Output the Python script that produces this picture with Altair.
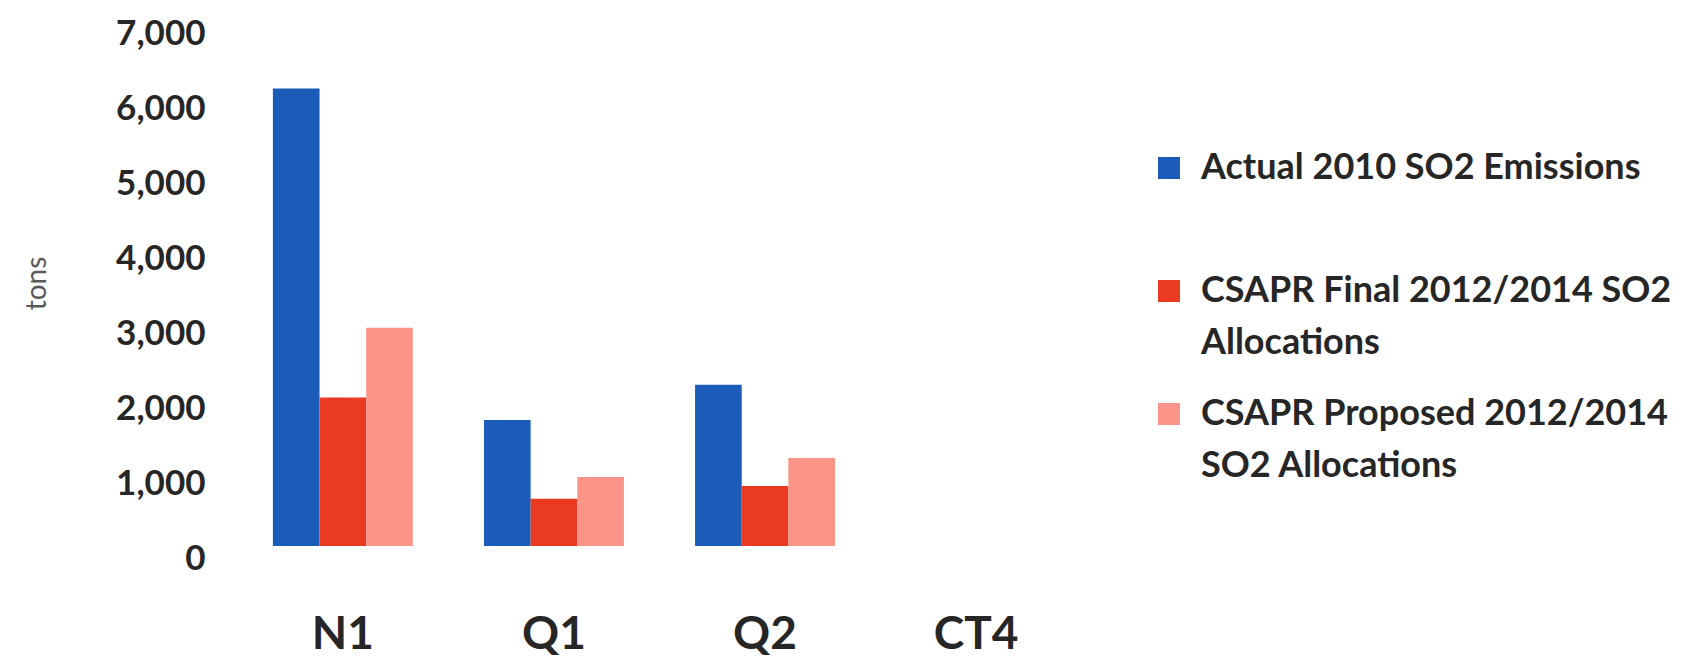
import altair as alt
import pandas as pd

categories = ["N1", "Q1", "Q2", "CT4"]
series = [
    "Actual 2010 SO2 Emissions",
    "CSAPR Final 2012/2014 SO2 Allocations",
    "CSAPR Proposed 2012/2014 SO2 Allocations",
]
actual_2010 = [6100, 1680, 2150, None]
final_alloc = [1980, 630, 800, None]
proposed_alloc = [2910, 920, 1175, None]
colors = ["#1a5cb8", "#ea3b22", "#fa9488"]
y_ticks = [0, 1000, 2000, 3000, 4000, 5000, 6000, 7000]

rows = []
for s, vals in zip(series, [actual_2010, final_alloc, proposed_alloc]):
    for c, v in zip(categories, vals):
        rows.append({"unit": c, "series": s, "tons": v})
df = pd.DataFrame(rows)

label_expr = (
    "datum.label == 'CSAPR Final 2012/2014 SO2 Allocations' ? "
    "['CSAPR Final 2012/2014 SO2', 'Allocations'] : "
    "datum.label == 'CSAPR Proposed 2012/2014 SO2 Allocations' ? "
    "['CSAPR Proposed 2012/2014', 'SO2 Allocations'] : [datum.label, '']"
)

chart = (
    alt.Chart(df)
    .mark_bar()
    .encode(
        x=alt.X(
            "unit:N",
            sort=categories,
            scale=alt.Scale(domain=categories, paddingInner=0.337, paddingOuter=0.17),
            axis=alt.Axis(
                title=None,
                labelAngle=0,
                labelFont="Lato",
                labelFontWeight="bold",
                labelFontSize=46,
                labelColor="#262626",
                labelPadding=66,
                domain=False,
                ticks=False,
            ),
        ),
        xOffset=alt.XOffset("series:N", sort=series, scale=alt.Scale(paddingInner=0, paddingOuter=0)),
        y=alt.Y(
            "tons:Q",
            scale=alt.Scale(domain=[0, 7000], nice=False),
            axis=alt.Axis(
                title="tons",
                values=y_ticks,
                format=",.0f",
                labelFont="Lato",
                labelFontWeight="bold",
                labelFontSize=35,
                labelColor="#262626",
                labelPadding=32,
                labelOffset=12,
                domain=False,
                ticks=False,
                grid=False,
                titleFont="Lato",
                titleFontWeight="normal",
                titleFontSize=28,
                titleColor="#595959",
                titleAngle=270,
                titleX=-200,
                titleY=262,
                titleAlign="center",
                titleBaseline="middle",
            ),
        ),
        color=alt.Color(
            "series:N",
            sort=series,
            scale=alt.Scale(domain=series, range=colors),
            legend=alt.Legend(
                title=None,
                orient="none",
                legendX=914,
                legendY=129,
                padding=0,
                symbolType="square",
                symbolSize=484,
                symbolStrokeWidth=0,
                symbolOpacity=1,
                labelFont="Lato",
                labelFontWeight="bold",
                labelFontSize=36,
                labelColor="#262626",
                labelLimit=700,
                labelOffset=14,
                labelBaseline="middle",
                labelExpr=label_expr,
                rowPadding=35,
            ),
        ),
    )
    .properties(
        width=845,
        height=525,
        autosize=alt.AutoSizeParams(type="none"),
        padding={"left": 229, "top": 13, "right": 599, "bottom": 113},
    )
    .configure(
        background="#ffffff",
        style={"guide-label": {"lineHeight": 52}},
        view={"stroke": "transparent", "strokeWidth": 0},
    )
)

chart.save("out.html", embed_options={"renderer": "svg", "actions": False})
